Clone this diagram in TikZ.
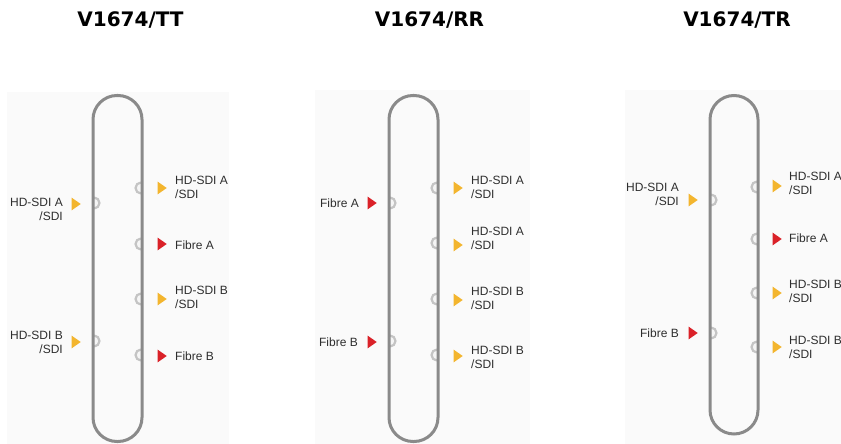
\documentclass[tikz,border=0pt]{standalone}
\usepackage{fontspec}
\setmainfont{Liberation Sans}
\newfontfamily\headfont{DejaVu Sans}
\usetikzlibrary{shapes.geometric}
\definecolor{sdiyellow}{HTML}{F3B52E}
\definecolor{fibrered}{HTML}{DA2128}
\definecolor{casegray}{HTML}{8A8A8A}
\definecolor{portgray}{HTML}{C4C4C4}
\definecolor{panelbg}{HTML}{FAFAFA}
\definecolor{labeltext}{HTML}{2E2E2E}
\tikzset{
  title/.style={font=\headfont\bfseries\fontsize{20}{24}\selectfont, text=black},
  panel/.style={fill=panelbg, draw=none},
  housing/.style={rectangle, draw=casegray, line width=3pt, rounded corners=24pt, minimum width=49pt, inner sep=0pt},
  port/.style={draw=portgray, fill=gray!8, line width=2.2pt},
  marker/.style={isosceles triangle, isosceles triangle apex angle=70, inner sep=0pt, minimum size=9pt, draw=none},
  sdi/.style={marker, fill=sdiyellow},
  fibre/.style={marker, fill=fibrered},
  lab/.style={font=\fontsize{12}{14}\selectfont, text=labeltext, inner sep=0pt, align=left, anchor=west},
  labl/.style={lab, align=right, anchor=east}
}
% half-round ports sitting on the inside of the housing
\newcommand{\portL}[2]{\draw[port] (#1,#2) ++(0pt,-5.5pt) arc[start angle=-90, end angle=90, radius=5.5pt];}
\newcommand{\portR}[2]{\draw[port] (#1,#2) ++(0pt,-5.5pt) arc[start angle=-90, end angle=-270, radius=5.5pt];}
\begin{document}
\begin{tikzpicture}[x=1pt, y=-1pt]
  \useasboundingbox (0,0) rectangle (841,444);
  \fill[white] (0,0) rectangle (841,444);

  % titles
  \node (ttTitle) [title] at (130.5,20.5) {V1674/TT};
  \node (rrTitle) [title] at (429.5,20.5) {V1674/RR};
  \node (trTitle) [title] at (737,20.5) {V1674/TR};

  % panel backgrounds
  \fill[panel] (7,92) rectangle (229,444);
  \fill[panel] (315,90) rectangle (530,444);
  \fill[panel] (625,90) rectangle (841,444);

  % V1674/TT
  \portL{94}{203} \portL{94}{341}
  \portR{141}{188} \portR{141}{244} \portR{141}{299} \portR{141}{355}
  \node (ttCase) [housing, minimum height=346pt] at (117.5,268.5) {};
  \node (ttInA) [sdi] at (75,204) {};
  \node (ttInB) [sdi] at (75,342) {};
  \node (ttOutA) [sdi] at (161,188) {};
  \node (ttOutFA) [fibre] at (161,244) {};
  \node (ttOutB) [sdi] at (161,299) {};
  \node (ttOutFB) [fibre] at (161,356) {};
  \node (ttInALab) [labl] at (63,209) {HD-SDI A\\/SDI};
  \node (ttInBLab) [labl] at (63,342) {HD-SDI B\\/SDI};
  \node (ttOutALab) [lab] at (175,187.5) {HD-SDI A\\/SDI};
  \node (ttOutFALab) [lab] at (175,245) {Fibre A};
  \node (ttOutBLab) [lab] at (175,297) {HD-SDI B\\/SDI};
  \node (ttOutFBLab) [lab] at (175,356) {Fibre B};

  % V1674/RR
  \portL{390}{203} \portL{390}{341}
  \portR{437}{188} \portR{437}{243} \portR{437}{299} \portR{437}{355}
  \node (rrCase) [housing, minimum height=346pt] at (413.5,268.5) {};
  \node (rrInA) [fibre] at (371,203) {};
  \node (rrInB) [fibre] at (371,342) {};
  \node (rrOutA1) [sdi] at (457,188) {};
  \node (rrOutA2) [sdi] at (457,245) {};
  \node (rrOutB1) [sdi] at (457,300) {};
  \node (rrOutB2) [sdi] at (457,356) {};
  \node (rrInALab) [labl] at (359,203) {Fibre A};
  \node (rrInBLab) [labl] at (358,342) {Fibre B};
  \node (rrOutA1Lab) [lab] at (471,187.5) {HD-SDI A\\/SDI};
  \node (rrOutA2Lab) [lab] at (471,238) {HD-SDI A\\/SDI};
  \node (rrOutB1Lab) [lab] at (471,298) {HD-SDI B\\/SDI};
  \node (rrOutB2Lab) [lab] at (471,357) {HD-SDI B\\/SDI};

  % V1674/TR
  \portL{711}{200} \portL{711}{333}
  \portR{757}{187} \portR{757}{239} \portR{757}{293} \portR{757}{347}
  \node (trCase) [housing, minimum width=48pt, minimum height=338.5pt] at (734,264.75) {};
  \node (trInA) [sdi] at (692,200) {};
  \node (trInB) [fibre] at (692,333) {};
  \node (trOutA) [sdi] at (776,186) {};
  \node (trOutFA) [fibre] at (776,239) {};
  \node (trOutB1) [sdi] at (776,293) {};
  \node (trOutB2) [sdi] at (776,347) {};
  \node (trInALab) [labl] at (679,194) {HD-SDI A\\/SDI};
  \node (trInBLab) [labl] at (679,333) {Fibre B};
  \node (trOutALab) [lab] at (789,183) {HD-SDI A\\/SDI};
  \node (trOutFALab) [lab] at (789,238) {Fibre A};
  \node (trOutB1Lab) [lab] at (789,291) {HD-SDI B\\/SDI};
  \node (trOutB2Lab) [lab] at (789,347) {HD-SDI B\\/SDI};
\end{tikzpicture}
\end{document}
